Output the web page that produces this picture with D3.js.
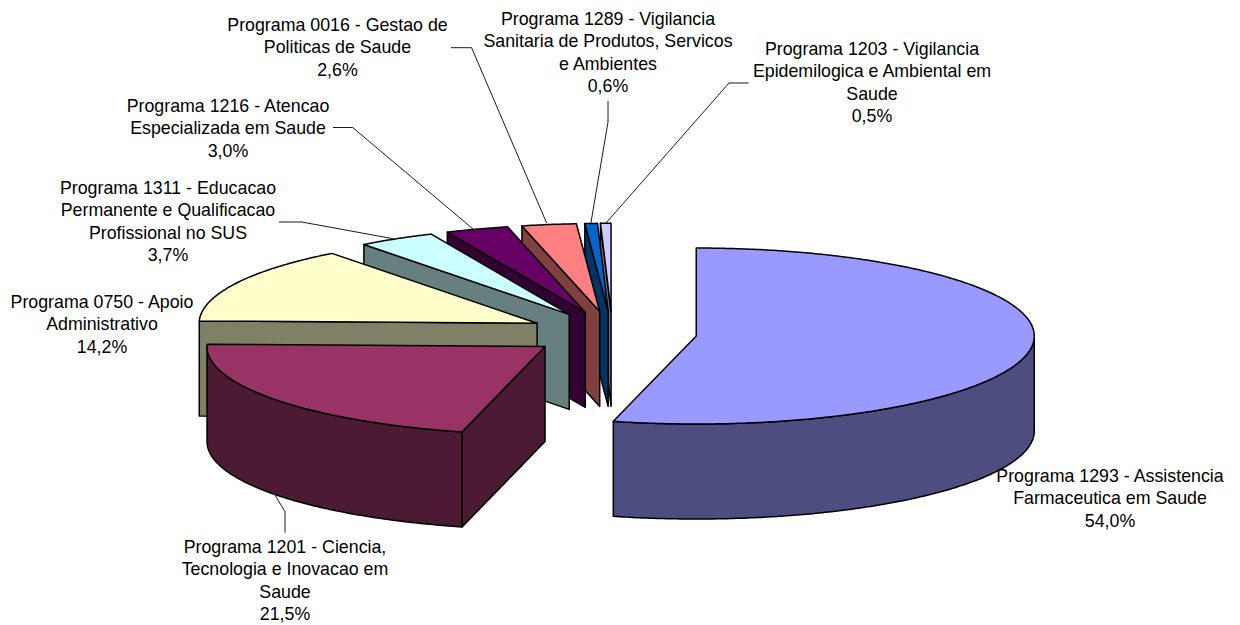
<!DOCTYPE html>
<html>
<head>
<meta charset="utf-8">
<style>
html,body{margin:0;padding:0;background:#fff;}
svg{display:block;}
text{font-family:"Liberation Sans",Arial,sans-serif;font-size:17.8px;fill:#000;text-anchor:middle;}
</style>
<script src="https://cdnjs.cloudflare.com/ajax/libs/d3/7.8.5/d3.min.js"></script>
</head>
<body>
<svg id="chart" width="1240" height="625"></svg>
<script>
// Data
const categories = [
  "Programa 1293 - Assistencia Farmaceutica em Saude",
  "Programa 1201 - Ciencia, Tecnologia e Inovacao em Saude",
  "Programa 0750 - Apoio Administrativo",
  "Programa 1311 - Educacao Permanente e Qualificacao Profissional no SUS",
  "Programa 1216 - Atencao Especializada em Saude",
  "Programa 0016 - Gestao de Politicas de Saude",
  "Programa 1289 - Vigilancia Sanitaria de Produtos, Servicos e Ambientes",
  "Programa 1203 - Vigilancia Epidemilogica e Ambiental em Saude"
];
const values = [54.0, 21.5, 14.2, 3.7, 3.0, 2.6, 0.6, 0.5];
const percentLabels = ["54,0%","21,5%","14,2%","3,7%","3,0%","2,6%","0,6%","0,5%"];

// Wrapped label lines, as they break in the picture
const labelLines = [
  ["Programa 1293 - Assistencia","Farmaceutica em Saude"],
  ["Programa 1201 - Ciencia,","Tecnologia e Inovacao em","Saude"],
  ["Programa 0750 - Apoio","Administrativo"],
  ["Programa 1311 - Educacao","Permanente e Qualificacao","Profissional no SUS"],
  ["Programa 1216 - Atencao","Especializada em Saude"],
  ["Programa 0016 - Gestao de","Politicas de Saude"],
  ["Programa 1289 - Vigilancia","Sanitaria de Produtos, Servicos","e Ambientes"],
  ["Programa 1203 - Vigilancia","Epidemilogica e Ambiental em","Saude"]
];

// Styles
const colors = ["#9999FF","#993366","#FFFFCC","#CCFFFF","#660066","#FF8080","#0066CC","#CCCCFF"];
const wallColors = colors.map(c => { const r = d3.rgb(c); return d3.rgb(r.r/2, r.g/2, r.b/2).formatHex(); });

// Layout
const cx = 612.4, cy = 333.3, rx = 338, ry = 88, depth = 95, explode = 0.25;
const lineGap = 22.3;
const labelAnchors = [[1110,482],[285,553],[102,308],[168,194],[228,112],[337.5,31],[608,25],[872,55]];
const leaders = [
  null,
  [[285,532.7],[285,511.7],[275,495]],
  null,
  [[279,222],[301.7,222],[393,238.7]],
  [[333,127.5],[352.7,127.5],[473,229]],
  [[451,47.7],[471.6,47.7],[546.6,223]],
  [[608,101],[608,122],[590.8,223.5]],
  [[748.7,83],[729,83],[606,223]]
];

const x = d3.scaleLinear().domain([-1,1]).range([cx-rx, cx+rx]);
const y = d3.scaleLinear().domain([-1,1]).range([cy-ry, cy+ry]);

const pie = d3.pie().sort(null);
const arcs = pie(values);
const line = d3.line();
const TAU = Math.PI*2;

const svg = d3.select("#chart");

// Unit-circle position for a clockwise angle from 12 o'clock
const ux = a => Math.sin(a), uy = a => -Math.cos(a);

function pointAt(arc, a, r, dz){
  const mid = (arc.startAngle + arc.endAngle)/2;
  const ex = explode*ux(mid), ey = explode*uy(mid);
  return [x(ex + r*ux(a)), y(ey + r*uy(a)) + (dz||0)];
}
function arcPoints(arc, a0, a1, dz){
  const n = Math.max(2, Math.ceil(Math.abs(a1-a0)/0.01));
  return d3.range(n+1).map(i => pointAt(arc, a0 + (a1-a0)*i/n, 1, dz));
}

const wall = pts => line(pts) + "Z";
const slices = arcs.map((a,i) => ({a,i})).reverse();   // back to front

const g = svg.append("g")
  .attr("stroke","#000").attr("stroke-width",1.5).attr("stroke-linejoin","round");

slices.forEach(({a,i}) => {
  const s = g.append("g");
  const apex = pointAt(a, 0, 0), apexB = pointAt(a, 0, 0, depth);
  // start-radius wall, visible when it faces the viewer
  if (a.startAngle > Math.PI && a.startAngle < TAU) {
    s.append("path").attr("fill",wallColors[i])
      .attr("d", wall([apex, pointAt(a,a.startAngle,1), pointAt(a,a.startAngle,1,depth), apexB]));
  }
  // end-radius wall
  if (a.endAngle > 0 && a.endAngle < Math.PI) {
    s.append("path").attr("fill",wallColors[i])
      .attr("d", wall([apex, pointAt(a,a.endAngle,1), pointAt(a,a.endAngle,1,depth), apexB]));
  }
  // outer rim wall: the front half of the ellipse only
  const lo = Math.max(a.startAngle, Math.PI/2), hi = Math.min(a.endAngle, Math.PI*1.5);
  if (hi > lo) {
    s.append("path").attr("fill",wallColors[i])
      .attr("d", wall(arcPoints(a,lo,hi,0).concat(arcPoints(a,hi,lo,depth))));
  }
  // top face
  s.append("path").attr("fill",colors[i])
    .attr("d", wall([apex].concat(arcPoints(a,a.startAngle,a.endAngle,0))));
});

// Leader lines
svg.append("g").attr("fill","none").attr("stroke","#000").attr("stroke-width",0.9)
  .selectAll("path").data(leaders.filter(Boolean)).join("path").attr("d", line);

// Labels
const labels = svg.append("g");
categories.forEach((name,i) => {
  const t = labels.append("text").attr("aria-label", name);
  labelLines[i].concat([percentLabels[i]]).forEach((ln,k) => {
    t.append("tspan").attr("x",labelAnchors[i][0]).attr("y",labelAnchors[i][1]+k*lineGap).text(ln);
  });
});
</script>
</body>
</html>
